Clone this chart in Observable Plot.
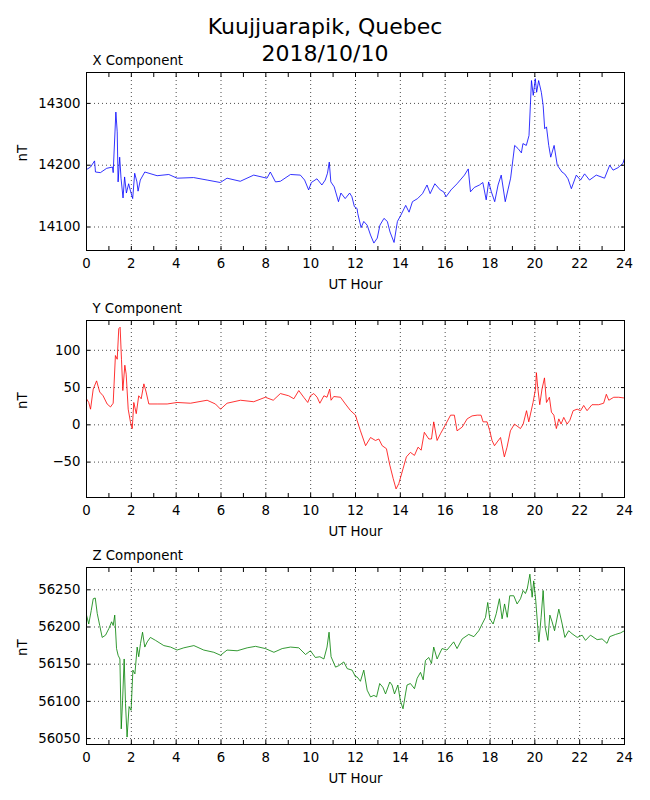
<!DOCTYPE html>
<html>
<head>
<meta charset="utf-8">
<script src="https://cdn.jsdelivr.net/npm/d3@7"></script>
<script src="https://cdn.jsdelivr.net/npm/@observablehq/plot@0.6"></script>
<style>
  body { margin: 0; background: white; }
  #wrap { position: relative; width: 650px; }
  #title { position: absolute; top: 14px; left: 0; width: 650px; text-align: center;
           font-family: "DejaVu Sans", sans-serif; font-size: 22px; line-height: 26.7px; color: black; z-index: 2; }
  svg { display: block; }
</style>
</head>
<body>
<div id="wrap">
  <div id="title">Kuujjuarapik, Quebec<br>2018/10/10</div>
</div>
<script>
const titleLine1 = "Kuujjuarapik, Quebec";
const titleLine2 = "2018/10/10";
const panelTitles = ["X Component", "Y Component", "Z Component"];
const xAxisLabel = "UT Hour";
const yAxisLabel = "nT";

const hourLabels = [0, 2, 4, 6, 8, 10, 12, 14, 16, 18, 20, 22, 24];
const hourTicks = d3.range(0, 25, 1);

const xTicks = [14100, 14200, 14300];
const yTicks = [-50, 0, 50, 100];
const zTicks = [56050, 56100, 56150, 56200, 56250];

const xHours = [0,0.18,0.36,0.4,0.62,0.9,1.16,1.19,1.31,1.37,1.41,1.48,1.54,1.63,1.7,1.78,1.88,1.95,2.06,2.15,2.25,2.3,2.4,2.6,3.15,3.67,4.04,4.78,5.38,5.97,6.27,6.86,7.46,8.05,8.2,8.43,8.65,9.1,9.54,9.73,9.91,10.03,10.28,10.5,10.65,10.75,10.83,10.9,11.05,11.24,11.35,11.54,11.74,11.84,11.95,12.07,12.1,12.25,12.37,12.52,12.67,12.82,12.97,13.09,13.27,13.42,13.54,13.72,13.87,14.02,14.24,14.39,14.54,14.77,14.99,15.19,15.33,15.54,15.78,15.93,16.04,16.26,16.53,16.86,17.03,17.13,17.3,17.53,17.68,17.83,17.94,18.06,18.21,18.36,18.5,18.68,18.8,18.92,19.1,19.25,19.4,19.47,19.62,19.74,19.85,19.93,20.02,20.08,20.17,20.29,20.37,20.44,20.52,20.62,20.71,20.86,21.0,21.21,21.33,21.48,21.63,21.85,22.04,22.22,22.44,22.74,23.11,23.34,23.49,23.71,23.93,24.0];
const xValues = [14193,14197,14207,14189,14188,14195,14197,14188,14286,14254,14173,14213,14179,14147,14181,14155,14170,14160,14146,14187,14173,14158,14176,14189,14183,14185,14179,14180,14176,14172,14179,14174,14184,14179,14189,14173,14174,14185,14184,14176,14160,14172,14178,14168,14176,14187,14205,14173,14165,14141,14155,14146,14155,14149,14133,14130,14122,14099,14109,14103,14087,14074,14082,14103,14114,14109,14092,14075,14109,14119,14135,14124,14141,14146,14154,14168,14154,14170,14160,14157,14149,14160,14170,14184,14194,14157,14164,14168,14172,14144,14173,14157,14141,14168,14184,14141,14160,14179,14232,14227,14220,14235,14232,14248,14337,14313,14340,14318,14337,14318,14297,14259,14262,14232,14213,14232,14200,14189,14186,14178,14162,14184,14176,14186,14176,14184,14179,14200,14192,14196,14203,14211];

const yHours = [0,0.1,0.18,0.3,0.45,0.59,0.74,0.92,1.07,1.19,1.29,1.37,1.44,1.5,1.56,1.62,1.71,1.77,1.86,1.96,2.04,2.11,2.22,2.33,2.44,2.56,2.66,2.78,3.15,3.6,4.04,4.64,5.38,5.75,5.98,6.27,6.87,7.46,7.98,8.33,8.65,9.02,9.25,9.47,9.69,9.87,9.99,10.14,10.29,10.41,10.59,10.73,10.85,10.91,11.03,11.33,11.55,11.78,12.0,12.07,12.22,12.45,12.67,12.89,13.04,13.19,13.38,13.53,13.68,13.81,13.93,14.12,14.27,14.45,14.63,14.79,14.93,15.07,15.27,15.39,15.49,15.64,15.79,16.01,16.24,16.41,16.53,16.76,16.98,17.2,17.43,17.6,17.69,17.87,17.99,18.09,18.2,18.32,18.47,18.64,18.76,18.91,19.09,19.36,19.48,19.63,19.73,19.92,20.03,20.07,20.13,20.22,20.32,20.43,20.52,20.65,20.74,20.85,20.96,21.07,21.17,21.29,21.44,21.56,21.71,21.89,22.04,22.18,22.33,22.55,22.85,23.07,23.19,23.3,23.52,23.74,24.0];
const yValues = [35,30,21,48,59,44,39,28,24,29,93,88,129,131,88,46,80,68,21,4,-5,30,15,39,35,55,44,28,28,28,30,29,33,28,21,29,33,31,37,33,42,39,35,46,37,30,39,42,37,29,39,37,48,33,38,37,28,19,13,6,-8,-28,-17,-21,-19,-28,-32,-54,-72,-86,-79,-59,-43,-37,-41,-30,-34,-10,-19,-19,4,-21,-12,0,13,13,-8,-3,8,12,13,13,4,4,-8,-21,-28,-23,-17,-43,-30,-8,1,-5,1,19,4,30,48,70,50,27,48,63,30,37,17,13,-5,8,1,10,1,6,19,21,19,26,19,27,27,29,41,33,37,37,36];

const zHours = [0,0.1,0.21,0.3,0.39,0.48,0.59,0.7,0.85,1.0,1.12,1.19,1.26,1.34,1.41,1.49,1.55,1.61,1.68,1.74,1.81,1.9,1.99,2.07,2.16,2.26,2.33,2.41,2.5,2.6,2.71,2.85,3.08,3.45,3.75,4.04,4.34,4.79,5.23,5.68,5.98,6.27,6.72,7.17,7.54,7.98,8.36,8.73,9.1,9.47,9.77,9.99,10.21,10.41,10.59,10.73,10.82,10.91,11.11,11.25,11.48,11.63,11.85,12.0,12.07,12.22,12.37,12.52,12.67,12.82,12.94,13.08,13.22,13.34,13.53,13.63,13.74,13.89,14.0,14.12,14.23,14.3,14.45,14.63,14.75,14.9,15.02,15.12,15.27,15.39,15.49,15.64,15.86,16.08,16.38,16.53,16.76,17.05,17.28,17.5,17.65,17.8,17.9,17.99,18.14,18.28,18.42,18.54,18.65,18.77,18.88,19.06,19.21,19.36,19.48,19.58,19.66,19.78,19.88,19.95,20.04,20.18,20.28,20.37,20.46,20.58,20.67,20.77,20.88,21.07,21.22,21.34,21.51,21.66,21.89,22.11,22.26,22.48,22.78,23.0,23.22,23.34,23.6,23.82,24.0];
const zValues = [56216,56204,56222,56238,56239,56218,56202,56186,56189,56198,56207,56202,56216,56171,56162,56157,56063,56101,56157,56097,56052,56093,56088,56142,56137,56173,56160,56178,56193,56173,56180,56186,56182,56175,56173,56169,56172,56175,56169,56166,56162,56169,56168,56172,56174,56171,56166,56171,56173,56172,56163,56168,56159,56160,56157,56173,56193,56160,56146,56148,56153,56144,56142,56133,56133,56127,56142,56115,56106,56108,56106,56124,56119,56110,56126,56122,56110,56122,56101,56090,56110,56122,56124,56117,56131,56139,56129,56155,56159,56151,56173,56157,56171,56169,56180,56171,56184,56190,56187,56195,56204,56213,56233,56211,56204,56218,56238,56211,56231,56213,56242,56242,56231,56238,56249,56245,56251,56271,56240,56262,56236,56180,56213,56249,56200,56182,56216,56207,56195,56224,56204,56186,56195,56191,56186,56189,56182,56189,56183,56184,56178,56187,56190,56192,56195];

const fmt = d => d < 0 ? "\u2212" + Math.abs(d) : String(d);

function panel({title, hours, values, color, domain, ticks, height, marginTop}) {
  const data = hours.map((h, i) => ({h, v: values[i]}));
  const blank = () => "";
  return Plot.plot({
    width: 650, height, marginTop, marginBottom: 40, marginLeft: 86, marginRight: 26,
    style: {fontFamily: "DejaVu Sans, sans-serif", fontSize: "13.3px", background: "white", color: "black", overflow: "visible"},
    x: {domain: [0, 24]},
    y: {domain},
    marks: [
      Plot.gridX({ticks: hourLabels, stroke: "black", strokeOpacity: 1, strokeWidth: 0.7, strokeDasharray: "1,3"}),
      Plot.gridY({ticks, stroke: "black", strokeOpacity: 1, strokeWidth: 0.7, strokeDasharray: "1,3"}),
      Plot.line(data, {x: "h", y: "v", stroke: color, strokeWidth: 0.8, clip: true}),
      Plot.axisX({ticks: hourLabels, tickSize: 0, tickPadding: 8, tickFormat: fmt, label: null}),
      Plot.axisX({ticks: hourTicks, tickSize: -4, tickFormat: blank, label: null}),
      Plot.axisX({anchor: "top", ticks: hourTicks, tickSize: -4, tickFormat: blank, label: null}),
      Plot.axisY({ticks, tickSize: 0, tickPadding: 6, tickFormat: fmt, label: null}),
      Plot.axisY({ticks, tickSize: -4, tickFormat: blank, label: null}),
      Plot.axisY({anchor: "right", ticks, tickSize: -4, tickFormat: blank, label: null}),
      Plot.frame({stroke: "black", strokeWidth: 1}),
      Plot.text([title], {frameAnchor: "top-left", dx: 6, dy: -11.5, textAnchor: "start", lineAnchor: "middle"}),
      Plot.text([xAxisLabel], {frameAnchor: "bottom", dy: 34, lineAnchor: "middle"}),
      Plot.text([yAxisLabel], {frameAnchor: "left", dx: -64, rotate: -90, lineAnchor: "middle"})
    ]
  });
}

const wrap = document.getElementById("wrap");
wrap.appendChild(panel({title: panelTitles[0], hours: xHours, values: xValues, color: "#0000ff",
  domain: [14062, 14350], ticks: xTicks, height: 290, marginTop: 72}));
wrap.appendChild(panel({title: panelTitles[1], hours: yHours, values: yValues, color: "#ff0000",
  domain: [-97.5, 140], ticks: yTicks, height: 247, marginTop: 30}));
wrap.appendChild(panel({title: panelTitles[2], hours: zHours, values: zValues, color: "#008000",
  domain: [56042, 56280], ticks: zTicks, height: 247, marginTop: 30}));
</script>
</body>
</html>
